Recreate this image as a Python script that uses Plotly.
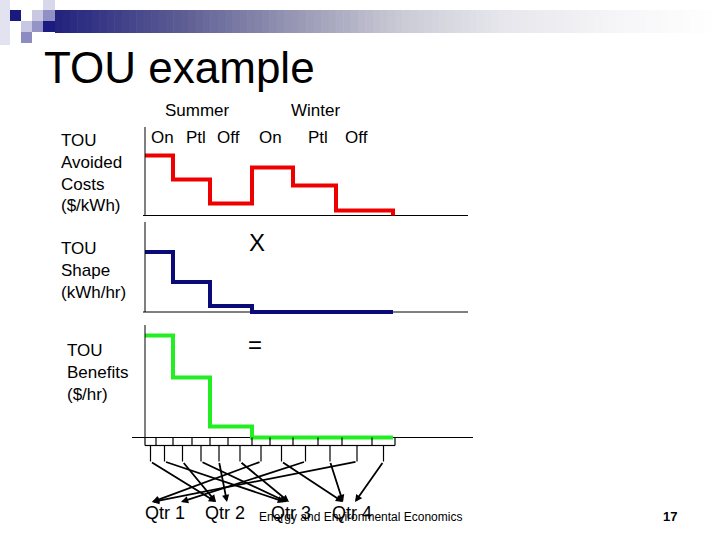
import plotly.graph_objects as go

W, H = 720, 540


def px(x):
    return x / W


def py(y):
    return 1 - y / H


# ---------------- data ----------------
seasons = ["Summer", "Winter"]
periods = ["On", "Ptl", "Off", "On", "Ptl", "Off"]
period_bounds = [0, 28, 65, 107, 148, 191, 248]          # hours axis (schematic)
avoided_cost = [60, 36, 12, 48, 30, 5]                   # $/kWh (schematic)
tou_shape = [60, 30, 6, 0, 0, 0]                         # kWh/hr (schematic)
tou_benefits = [102, 60, 11, 0, 0, 0]                    # $/hr (schematic)
month_bounds = [0, 11, 28, 47, 65, 83, 107, 125, 148, 173, 197, 227, 250]
month_quarter = [2, 3, 2, 3, 2, 3, 1, 4, 1, 4, 1, 4]
quarters = ["Qtr 1", "Qtr 2", "Qtr 3", "Qtr 4"]

# ---------------- layout positions ----------------
quarter_label_x = [20, 80, 146, 207]
arrow_head_x = [71, 140, 71, 142, 82, 144, 7, 198, 36, 198, 7, 210]

FONT = "Arial, Liberation Sans, sans-serif"

fig = go.Figure()


def step_xy(vals):
    xs = list(period_bounds) + [period_bounds[-1]]
    ys = list(vals) + [vals[-1], 0]
    return xs, ys


for vals, yax, col in [(avoided_cost, "y", "#ee0000"),
                       (tou_shape, "y2", "#0a0a78"),
                       (tou_benefits, "y3", "#22ee22")]:
    xs, ys = step_xy(vals)
    fig.add_trace(go.Scatter(x=xs, y=ys, mode="lines", line_shape="hv",
                             line=dict(color=col, width=4),
                             xaxis="x", yaxis=yax, hoverinfo="skip"))

# brackets under the benefits chart
bx, by = [], []
for t in month_bounds:
    bx += [t, t, None]
    by += [0, -8, None]
centers = []
for i in range(len(month_bounds) - 1):
    L, R = month_bounds[i], month_bounds[i + 1]
    C = (L + R) / 2
    centers.append(C)
    bx += [L, R, None, C, C, None]
    by += [-8, -8, None, -8, -24, None]
fig.add_trace(go.Scatter(x=bx, y=by, mode="lines", line=dict(color="black", width=1.2),
                         xaxis="x", yaxis="y4", hoverinfo="skip"))

annotations = []
for i, C in enumerate(centers):
    annotations.append(dict(x=arrow_head_x[i], y=-64.5, ax=C, ay=-24,
                            xref="x", yref="y4", axref="x", ayref="y4",
                            showarrow=True, arrowhead=2, arrowsize=0.8,
                            arrowwidth=1.8, arrowcolor="black", text="", standoff=0))

for q, qx in zip(quarters, quarter_label_x):
    annotations.append(dict(x=qx, y=-75.5, xref="x", yref="y4", text=q,
                            xanchor="center", yanchor="middle",
                            showarrow=False, font=dict(family=FONT, size=18, color="black")))


def txt(x, y, t, size=17, xanchor="center", bold=False):
    return dict(x=px(x), y=py(y), xref="paper", yref="paper",
                text=f"<b>{t}</b>" if bold else t, xanchor=xanchor, yanchor="middle",
                showarrow=False, font=dict(family=FONT, size=size, color="black"))


# period / season labels
season_px = [197, 315]
for s, sx in zip(seasons, season_px):
    annotations.append(txt(sx, 110, s))
period_px = [162, 196, 228, 270, 318, 356]
for p, ppx in zip(periods, period_px):
    annotations.append(txt(ppx, 137, p))

# left labels
blocks = [(61, [141, 162, 184, 205], ["TOU", "Avoided", "Costs", "($/kWh)"]),
          (61, [248, 270, 292], ["TOU", "Shape", "(kWh/hr)"]),
          (67, [350, 372, 394], ["TOU", "Benefits", "($/hr)"])]
for bxp, ys, lines in blocks:
    for yy, t in zip(ys, lines):
        annotations.append(txt(bxp - 2, yy, t, xanchor="left"))

annotations += [
    txt(257, 243, "X", size=24),
    txt(255, 344, "=", size=24),
    txt(42, 67, "TOU example", size=44, xanchor="left"),
    txt(360.5, 517, "Energy and Environmental Economics", size=12),
    txt(670, 516, "17", size=13, bold=True),
]

shapes = []
# axis lines
for yref, top, x0, x1 in [("y", 88.5, -2, 323), ("y2", 90, -2, 323), ("y3", 112.5, -13, 328)]:
    shapes.append(dict(type="line", xref="x", yref=yref, x0=0, x1=0, y0=0, y1=top,
                       line=dict(color="black", width=1)))
    shapes.append(dict(type="line", xref="x", yref=yref, x0=x0, x1=x1, y0=0, y1=0,
                       line=dict(color="black", width=1), layer="below"))


# header gradient bar
def hex2rgb(h):
    h = h.lstrip("#")
    return [int(h[i:i + 2], 16) for i in (0, 2, 4)]


stops = [(55, "#22227e"), (180, "#5c5c94"), (300, "#9a9ab6"), (400, "#cacad6"),
         (500, "#e6e6ec"), (620, "#f6f6f8"), (720, "#ffffff")]
N = 90
for k in range(N):
    xa = 55 + (720 - 55) * k / N
    xb = 55 + (720 - 55) * (k + 1) / N
    xm = (xa + xb) / 2
    for j in range(len(stops) - 1):
        if stops[j][0] <= xm <= stops[j + 1][0]:
            f = (xm - stops[j][0]) / (stops[j + 1][0] - stops[j][0])
            c0, c1 = hex2rgb(stops[j][1]), hex2rgb(stops[j + 1][1])
            c = [round(c0[m] + (c1[m] - c0[m]) * f) for m in range(3)]
            break
    shapes.append(dict(type="rect", xref="paper", yref="paper", x0=px(xa), x1=px(xb + 0.6),
                       y0=py(33), y1=py(10), fillcolor=f"rgb({c[0]},{c[1]},{c[2]})",
                       line=dict(width=0), layer="below"))

squares = [(0, 0, 10, 45, "#e2e2f1"), (10, 10, 21, 21, "#1a1a7e"), (21, 21, 32, 32, "#c8c8e2"),
           (21, 32, 32, 43, "#8c8cc0"), (32, 10, 43, 21, "#c8c8e2"), (32, 21, 43, 32, "#9494c6"),
           (43, 0, 55, 10, "#d8d8ec"), (43, 10, 55, 21, "#9090c4"), (43, 21, 55, 32, "#1c1c80")]
for x0, y0, x1, y1, c in squares:
    shapes.append(dict(type="rect", xref="paper", yref="paper", x0=px(x0), x1=px(x1),
                       y0=py(y1), y1=py(y0), fillcolor=c, line=dict(width=0), layer="below"))

ax_common = dict(visible=False, showgrid=False, zeroline=False, fixedrange=True)
fig.update_layout(
    width=W, height=H, margin=dict(l=0, r=0, t=0, b=0),
    paper_bgcolor="white", plot_bgcolor="rgba(0,0,0,0)", showlegend=False,
    xaxis=dict(domain=[px(132), px(473)], range=[-13, 328], anchor="y", **ax_common),
    yaxis=dict(domain=[py(225), py(120)], range=[-9.5, 95.5], anchor="x", **ax_common),
    yaxis2=dict(domain=[py(320), py(218)], range=[-8, 94], anchor="x", **ax_common),
    yaxis3=dict(domain=[py(442), py(320)], range=[-4.5, 117.5], anchor="x", **ax_common),
    yaxis4=dict(domain=[py(522), py(430)], range=[-84.5, 7.5], anchor="x", **ax_common),
    annotations=annotations, shapes=shapes,
)

fig.write_html("out.html", config={"displayModeBar": False},
               post_script="document.body.style.margin='0';document.body.style.padding='0';")
